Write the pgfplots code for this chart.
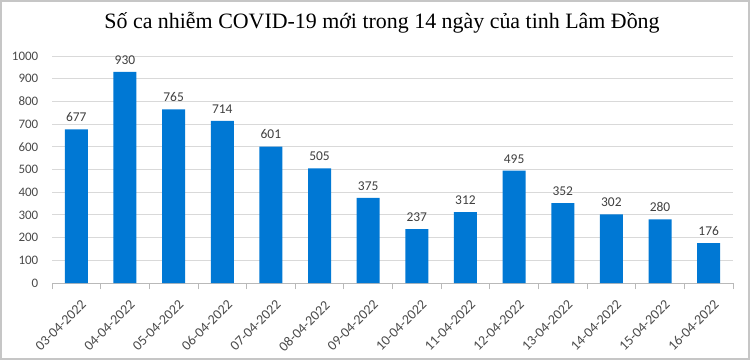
\documentclass[border=0pt]{standalone}
\usepackage{pgfplots}
\pgfplotsset{compat=1.18}
\usepackage{fontspec}
\setmainfont{Carlito}
\newfontfamily\titlefont{Liberation Serif}
\definecolor{barblue}{HTML}{0078D4}
\definecolor{gridgray}{HTML}{D9D9D9}
\definecolor{labgray}{HTML}{4A4A4A}
\definecolor{datagray}{HTML}{404040}
\begin{document}
\begin{tikzpicture}
\useasboundingbox (0,0) rectangle (750bp,360bp);
\fill[white] (0,0) rectangle (750bp,360bp);
\draw[gray!45, line width=1.5bp] (0.8bp,0.8bp) rectangle (749.2bp,359.2bp);
\node[font=\titlefont\fontsize{22}{26}\selectfont, anchor=center] at (382bp,337bp) {Số ca nhiễm COVID-19 mới trong 14 ngày của tinh Lâm Đồng};
\begin{axis}[
  at={(52bp,77bp)}, anchor=south west,
  scale only axis, width=681bp, height=227bp,
  xmin=-0.5, xmax=13.5, ymin=0, ymax=1000,
  ytick={0,100,...,1000},
  xtick={0,...,13},
  xticklabels={03-04-2022,04-04-2022,05-04-2022,06-04-2022,07-04-2022,08-04-2022,09-04-2022,10-04-2022,11-04-2022,12-04-2022,13-04-2022,14-04-2022,15-04-2022,16-04-2022},
  minor xtick={-0.5,0.5,...,13.5},
  axis x line*=bottom, axis y line*=left,
  x axis line style={draw=gray!55, line width=0.8bp, -},
  y axis line style={draw=none},
  ymajorgrids, grid style={gridgray, line width=0.8bp},
  major x tick style={draw=none},
  minor x tick style={draw=gray!55, line width=0.8bp},
  ytick style={draw=none},
  minor tick length=6bp,
  tick align=outside,
  yticklabel style={font=\fontsize{13}{15}\selectfont, text=labgray, xshift=-6bp},
  xticklabel style={font=\fontsize{14}{16}\selectfont, text=labgray, rotate=45, anchor=north east, xshift=-2bp, yshift=-8bp},
  /pgf/number format/assume math mode=true,
  /pgf/number format/.cd, 1000 sep={},
  /pgfplots/.cd,
  nodes near coords,
  every node near coord/.append style={font=\fontsize{13.5}{15}\selectfont, text=datagray, yshift=4bp},
  clip=false,
]
\addplot[ybar, bar width=23bp, fill=barblue, draw=none] coordinates {
(0,677) (1,930) (2,765) (3,714) (4,601) (5,505) (6,375) (7,237) (8,312) (9,495) (10,352) (11,302) (12,280) (13,176)
};
\end{axis}
\end{tikzpicture}
\end{document}
